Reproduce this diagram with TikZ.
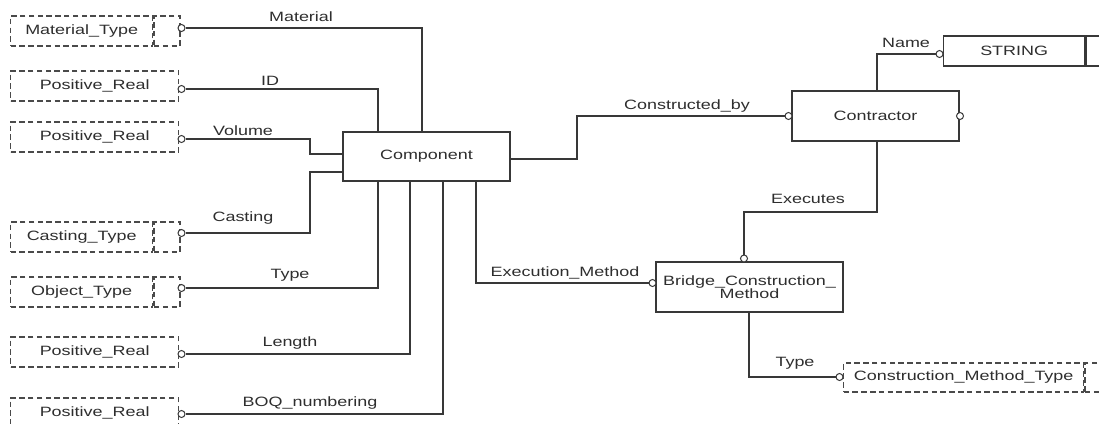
\documentclass[tikz,border=0pt]{standalone}
\usepackage{fontspec}
\setmainfont[FakeStretch=1.33]{Liberation Sans}
\definecolor{linec}{HTML}{383838}
\definecolor{dashc}{HTML}{4A4A4A}
\definecolor{textc}{HTML}{2E2E2E}
\begin{document}
\begin{tikzpicture}[x=1pt,y=-1pt,
  every node/.style={font=\fontsize{13.5}{13}\selectfont, text=textc},
  ln/.style={draw=linec, line width=1.3pt},
  ent/.style={rectangle, draw=linec, line width=1.3pt, fill=white, inner sep=0pt},
  dbox/.style={rectangle, draw=dashc, line width=1.3pt, dash pattern=on 5.5pt off 3.3pt, inner sep=0pt},
  opt/.style={circle, draw=linec, line width=1pt, fill=white, inner sep=0pt, minimum size=7pt},
  lbl/.style={inner sep=1pt}]
\clip (0,0) rectangle (1099,423);
\fill[white] (0,0) rectangle (1099,423);

% ---------- entities ----------
\node[ent, minimum width=167pt, minimum height=49pt] (comp) at (426.5,156.5) {Component};
\node[ent, minimum width=167pt, minimum height=50pt] (ctr) at (875.5,116) {Contractor};
\node[ent, minimum width=187pt, minimum height=50pt, align=center] (bcm) at (749.5,287) {Bridge\_Construction\_\\Method};
\node[ent, minimum width=141pt, minimum height=30pt, anchor=west] (str) at (943,51) {STRING};
\node[ent, minimum width=40pt, minimum height=30pt, anchor=west] (strx) at (str.east) {};

% ---------- value types (left) ----------
\node[dbox, minimum width=142pt, minimum height=30pt, anchor=west] (mt) at (10,31) {Material\_Type};
\node[dbox, minimum width=26pt, minimum height=30pt, anchor=west] (mtx) at (mt.east) {};
\node[dbox, minimum width=168pt, minimum height=30pt, anchor=west] (pr1) at (10,86) {Positive\_Real};
\node[dbox, minimum width=168pt, minimum height=30pt, anchor=west] (pr2) at (10,137) {Positive\_Real};
\node[dbox, minimum width=142pt, minimum height=30pt, anchor=west] (ct) at (10,237) {Casting\_Type};
\node[dbox, minimum width=26pt, minimum height=30pt, anchor=west] (ctx) at (ct.east) {};
\node[dbox, minimum width=142pt, minimum height=30pt, anchor=west] (ot) at (10,292) {Object\_Type};
\node[dbox, minimum width=26pt, minimum height=30pt, anchor=west] (otx) at (ot.east) {};
\node[dbox, minimum width=168pt, minimum height=30pt, anchor=west] (pr3) at (10,352) {Positive\_Real};
\node[dbox, minimum width=168pt, minimum height=30pt, anchor=west] (pr4) at (10,413) {Positive\_Real};

% ---------- value type (right) ----------
\node[dbox, minimum width=240pt, minimum height=29pt, anchor=west] (cmt) at (843,377.5) {Construction\_Method\_Type};
\node[dbox, minimum width=40pt, minimum height=29pt, anchor=west] (cmtx) at (cmt.east) {};

% ---------- optional-role circles ----------
\node[opt] (o1) at (181.5,28) {};
\node[opt] (o2) at (181.5,89) {};
\node[opt] (o3) at (181.5,139) {};
\node[opt] (o4) at (181.5,233) {};
\node[opt] (o5) at (181.5,288) {};
\node[opt] (o6) at (181.5,354) {};
\node[opt] (o7) at (181.5,414) {};
\node[opt] (oc1) at (788.5,116) {};
\node[opt] (oc2) at (960,116) {};
\node[opt] (on) at (939.5,54) {};
\node[opt] (oe) at (744,258.5) {};
\node[opt] (oem) at (652.5,283) {};
\node[opt] (ot2) at (839.5,377) {};

% ---------- bend points ----------
\coordinate (b1) at (422,0);
\coordinate (b2) at (378,0);
\coordinate (v1) at (310,154);
\coordinate (k1) at (310,172);
\coordinate (b5) at (378,0);
\coordinate (b6) at (410,0);
\coordinate (b7) at (443,0);
\coordinate (em) at (476,283);
\coordinate (cb) at (577,159);
\coordinate (nm) at (877,0);
\coordinate (ex) at (877,212);
\coordinate (ty) at (749,0);

% ---------- connectors ----------
\draw[ln] (o1.east) -| (comp.north -| b1);
\draw[ln] (o2.east) -| (comp.north -| b2);
\draw[ln] (o3.east) -| (v1) -- (v1 -| comp.west);
\draw[ln] (k1 -| comp.west) -- (k1) |- (o4.east);
\draw[ln] (comp.south -| b5) |- (o5.east);
\draw[ln] (comp.south -| b6) |- (o6.east);
\draw[ln] (comp.south -| b7) |- (o7.east);
\draw[ln] (comp.south -| em) -- (em) -- (oem.west);
\draw[ln] (cb -| comp.east) -- (cb) |- (oc1.west);
\draw[ln] (ctr.north -| nm) |- (on.west);
\draw[ln] (ctr.south -| ex) -- (ex) -| (oe.north);
\draw[ln] (bcm.south -| ty) |- (ot2.west);

% ---------- role labels ----------
\node[lbl] (l1) at (301,17) {Material};
\node[lbl] (l2) at (270,81) {ID};
\node[lbl] (l3) at (243,131) {Volume};
\node[lbl] (l4) at (243,218) {Casting};
\node[lbl] (l5) at (290,275) {Type};
\node[lbl] (l6) at (290,343) {Length};
\node[lbl] (l7) at (310,403) {BOQ\_numbering};
\node[lbl] (l8) at (687,106) {Constructed\_by};
\node[lbl] (l9) at (906,43) {Name};
\node[lbl] (l10) at (808,199) {Executes};
\node[lbl] (l11) at (565,273) {Execution\_Method};
\node[lbl] (l12) at (795,363) {Type};
\end{tikzpicture}
\end{document}
